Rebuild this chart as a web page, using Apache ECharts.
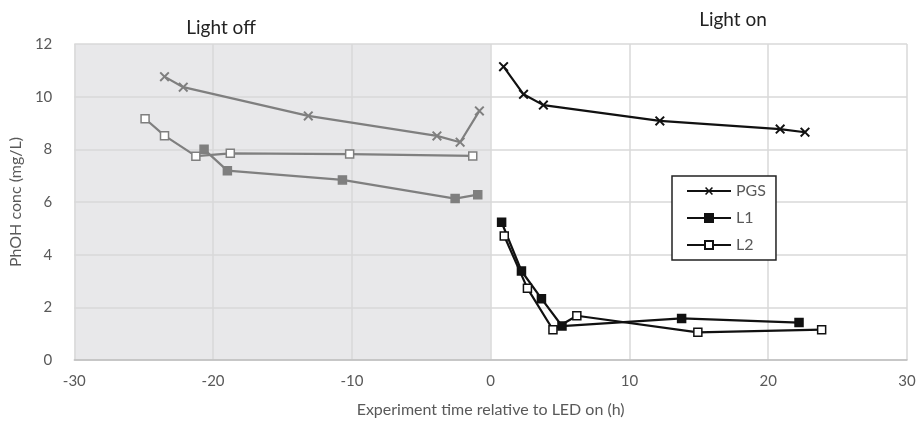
<!DOCTYPE html>
<html>
<head>
<meta charset="utf-8">
<script src="https://cdn.jsdelivr.net/npm/echarts@6/dist/echarts.min.js"></script>
<style>
  html, body { margin: 0; padding: 0; background: #fff; }
  #chart { width: 919px; height: 427px; }
</style>
</head>
<body>
<div id="chart"></div>
<script>
// light off (gray) series, [time h, conc mg/L]
var pgsOff = [[-23.5, 10.76], [-22.15, 10.36], [-13.14, 9.27], [-3.87, 8.51], [-2.2, 8.27], [-0.81, 9.46]]
var l1Off = [[-20.65, 8.0], [-18.97, 7.19], [-10.68, 6.84], [-2.56, 6.13], [-0.93, 6.28]]
var l2Off = [[-24.9, 9.16], [-23.5, 8.52], [-21.24, 7.74], [-18.76, 7.85], [-10.16, 7.82], [-1.29, 7.75]]
// light on (black) series
var pgsOn = [[0.93, 11.14], [2.37, 10.09], [3.8, 9.68], [12.19, 9.08], [20.86, 8.77], [22.65, 8.65]]
var l1On = [[0.79, 5.23], [2.22, 3.38], [3.66, 2.33], [5.14, 1.29], [13.76, 1.58], [22.22, 1.42]]
var l2On = [[0.98, 4.71], [2.65, 2.72], [4.49, 1.15], [6.21, 1.68], [14.93, 1.05], [23.85, 1.15]]

var darkPeriod = [-30, 0]
var xTicks = [-30, 30, 10]
var yTicks = [0, 12, 2]

var crossPath = 'path://M0,1.4L1.4,0L5,3.6L8.6,0L10,1.4L6.4,5L10,8.6L8.6,10L5,6.4L1.4,10L0,8.6L3.6,5Z'
var font = 'Lato, "Open Sans", sans-serif'

function mkLine(name, data, color, symbol, fill) {
  return {
    name: name,
    type: 'line',
    data: data,
    symbol: symbol,
    symbolSize: symbol === crossPath ? 10 : 8,
    showSymbol: true,
    lineStyle: { color: color, width: 2.2 },
    itemStyle: { color: fill, borderColor: color, borderWidth: symbol === crossPath ? 0 : 1.5 },
    emphasis: { disabled: true },
    z: 5
  }
}

var gray = '#7f7f7f'
var black = '#111'

var chart = echarts.init(document.getElementById('chart'))
chart.setOption({
  animation: false,
  title: [
    { text: 'Light off', left: 216, top: 13, textAlign: 'center',
      textStyle: { fontFamily: font, fontSize: 19, fontWeight: 'normal', color: '#222' } },
    { text: 'Light on', left: 728, top: 5, textAlign: 'center',
      textStyle: { fontFamily: font, fontSize: 19, fontWeight: 'normal', color: '#222' } }
  ],
  grid: { left: 70, right: 12, top: 44, bottom: 67 },
  legend: {
    data: ['PGS', 'L1', 'L2'],
    orient: 'vertical',
    left: 672,
    top: 176,
    padding: [7, 10, 7, 14],
    itemGap: 11,
    itemWidth: 44,
    itemHeight: 10,
    backgroundColor: '#fff',
    borderColor: '#222',
    borderWidth: 1.5,
    z: 10,
    textStyle: { fontFamily: font, fontSize: 16, color: '#595959' }
  },
  xAxis: {
    type: 'value',
    z: 2,
    min: xTicks[0], max: xTicks[1], interval: xTicks[2],
    name: 'Experiment time relative to LED on (h)',
    nameLocation: 'middle',
    nameGap: 42,
    nameTextStyle: { fontFamily: font, fontSize: 16, color: '#595959' },
    axisLine: { onZero: false, lineStyle: { color: '#bfbfbf', width: 1.5 } },
    axisTick: { show: false },
    axisLabel: { fontFamily: font, fontSize: 15, color: '#595959', margin: 14 },
    splitLine: { show: true, lineStyle: { color: '#d9d9d9', width: 1.5 } }
  },
  yAxis: {
    type: 'value',
    z: 2,
    min: yTicks[0], max: yTicks[1], interval: yTicks[2],
    name: 'PhOH conc (mg/L)',
    nameLocation: 'middle',
    nameGap: 46,
    nameTextStyle: { fontFamily: font, fontSize: 16, color: '#595959' },
    axisLine: { show: false },
    axisTick: { show: false },
    axisLabel: { fontFamily: font, fontSize: 15, color: '#595959', margin: 22 },
    splitLine: { show: true, lineStyle: { color: '#d9d9d9', width: 1.5 } }
  },
  series: [
    {
      name: 'dark',
      type: 'line',
      data: [],
      z: 1,
      silent: true,
      markArea: {
        silent: true,
        itemStyle: { color: '#e8e8ea' },
        data: [[{ xAxis: darkPeriod[0], yAxis: yTicks[0] }, { xAxis: darkPeriod[1], yAxis: yTicks[1] }]]
      }
    },
    mkLine('PGS off', pgsOff, gray, crossPath, gray),
    mkLine('L1 off', l1Off, gray, 'rect', gray),
    mkLine('L2 off', l2Off, gray, 'rect', '#fff'),
    mkLine('PGS', pgsOn, black, crossPath, black),
    mkLine('L1', l1On, black, 'rect', black),
    mkLine('L2', l2On, black, 'rect', '#fff')
  ]
})
</script>
</body>
</html>
